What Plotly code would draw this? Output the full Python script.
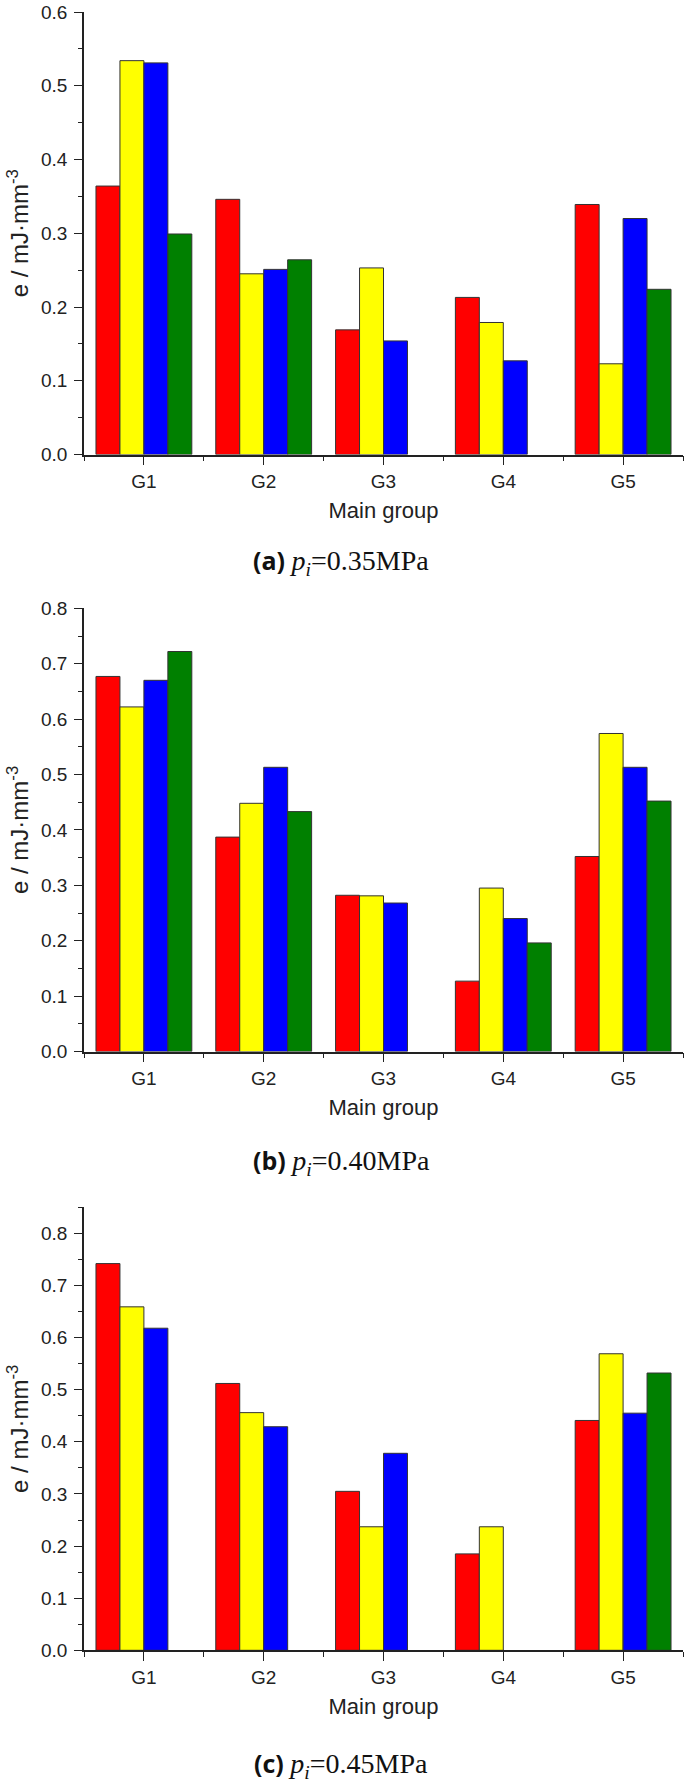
import plotly.graph_objects as go

W, H = 685, 1790

groups = ["G1", "G2", "G3", "G4", "G5"]
group_pos = [1, 2, 3, 4, 5]

# (a) p_i = 0.35 MPa
a_red = [0.364, 0.346, 0.169, 0.213, 0.339]
a_yellow = [0.534, 0.245, 0.253, 0.179, 0.123]
a_blue = [0.531, 0.251, 0.154, 0.127, 0.320]
a_green = [0.299, 0.264, None, None, 0.224]

# (b) p_i = 0.40 MPa
b_red = [0.677, 0.387, 0.282, 0.127, 0.352]
b_yellow = [0.622, 0.448, 0.281, 0.295, 0.574]
b_blue = [0.670, 0.513, 0.268, 0.240, 0.513]
b_green = [0.722, 0.433, None, 0.196, 0.452]

# (c) p_i = 0.45 MPa
c_red = [0.742, 0.512, 0.305, 0.185, 0.441]
c_yellow = [0.659, 0.456, 0.237, 0.237, 0.569]
c_blue = [0.618, 0.429, 0.378, None, 0.455]
c_green = [None, None, None, None, 0.532]

panel_tags = ["(a)", "(b)", "(c)"]
pressures = ["0.35", "0.40", "0.45"]
y_ranges = [[0, 0.6], [0, 0.8], [0, 0.85]]

series = [
    [a_red, a_yellow, a_blue, a_green],
    [b_red, b_yellow, b_blue, b_green],
    [c_red, c_yellow, c_blue, c_green],
]
colors = ["#ff0000", "#ffff00", "#0000ff", "#008000"]

# pixel layout (top, bottom) of each plot area and caption centre
plot_px = [(12, 454.5), (608.3, 1051.5), (1207.3, 1650.3)]
caption_y = [561, 1161, 1764]
caption_x = 341
x0_px, x1_px = 84, 683

SANS = "Liberation Sans, Arial, sans-serif"
SERIF = "Liberation Serif, Times New Roman, serif"


def px_x(px):
    return px / W


def px_y(px):
    return 1 - px / H


fig = go.Figure()

for i, vals in enumerate(series):
    sfx = "" if i == 0 else str(i + 1)
    for v, c in zip(vals, colors):
        fig.add_trace(
            go.Bar(
                x=group_pos,
                y=v,
                marker=dict(color=c, line=dict(color="#333333", width=1)),
                xaxis="x" + sfx,
                yaxis="y" + sfx,
                showlegend=False,
            )
        )

    top, bot = plot_px[i]
    fig.update_layout(
        {
            "xaxis" + sfx: dict(
                domain=[px_x(x0_px), px_x(x1_px)],
                anchor="y" + sfx,
                range=[0.5, 5.5],
                tickmode="array",
                tickvals=group_pos,
                ticktext=groups,
                ticks="outside",
                ticklen=9,
                tickwidth=1.2,
                tickcolor="#222",
                minor=dict(
                    tickmode="array",
                    tickvals=[0.5, 1.5, 2.5, 3.5, 4.5, 5.5],
                    ticks="outside",
                    ticklen=5,
                    tickwidth=1.2,
                    tickcolor="#222",
                ),
                showline=True,
                linecolor="#222",
                linewidth=1.5,
                showgrid=False,
                zeroline=False,
                tickfont=dict(family=SANS, size=19, color="#222"),
                title=dict(
                    text="Main group",
                    font=dict(family=SANS, size=22, color="#222"),
                    standoff=12,
                ),
                automargin=False,
            ),
            "yaxis" + sfx: dict(
                domain=[px_y(bot), px_y(top)],
                anchor="x" + sfx,
                range=y_ranges[i],
                tickmode="linear",
                tick0=0,
                dtick=0.1,
                tickformat=".1f",
                ticks="outside",
                ticklen=8,
                tickwidth=1.2,
                tickcolor="#222",
                ticklabelstandoff=3,
                minor=dict(
                    tickmode="linear",
                    tick0=0.05,
                    dtick=0.1,
                    ticks="outside",
                    ticklen=4,
                    tickwidth=1.2,
                    tickcolor="#222",
                ),
                showline=True,
                linecolor="#222",
                linewidth=1.5,
                showgrid=False,
                zeroline=False,
                tickfont=dict(family=SANS, size=19, color="#222"),
                title=dict(
                    text="e / mJ·mm<sup>-3</sup>",
                    font=dict(family=SANS, size=24, color="#222"),
                    standoff=6,
                ),
                automargin=False,
            ),
        }
    )

    # Caption below each panel
    fig.add_annotation(
        x=px_x(caption_x),
        y=px_y(caption_y[i]),
        xref="paper",
        yref="paper",
        showarrow=False,
        xanchor="center",
        yanchor="middle",
        text=(
            f"<b>{panel_tags[i]}</b> "
            f"<span style='font-family:{SERIF}; font-size:28px'>"
            f"<i>p<sub>i</sub></i>={pressures[i]}MPa</span>"
        ),
        font=dict(family="Open Sans, sans-serif", size=25, color="#111"),
    )

fig.update_layout(
    width=W,
    height=H,
    margin=dict(l=0, r=0, t=0, b=0),
    barmode="group",
    bargap=0.2,
    bargroupgap=0,
    plot_bgcolor="white",
    paper_bgcolor="white",
    showlegend=False,
)

# drop the default page margin so the figure fills the window
fig.write_html(
    "out.html",
    config={"displayModeBar": False},
    post_script="document.body.style.margin = '0';",
)
